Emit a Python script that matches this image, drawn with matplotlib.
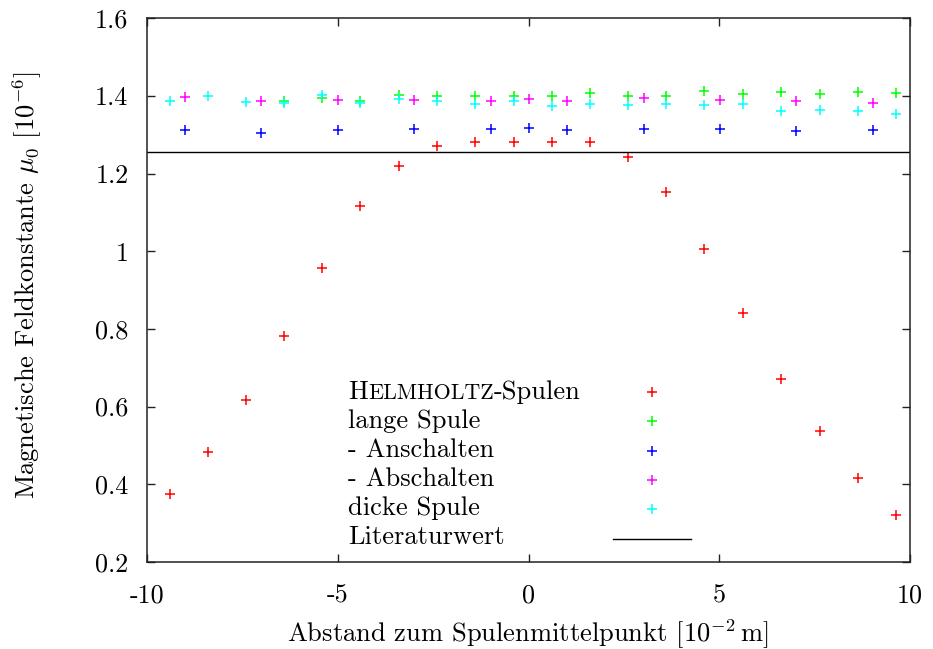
import matplotlib
matplotlib.use("Agg")
import matplotlib.pyplot as plt
from matplotlib.ticker import FixedLocator, FixedFormatter

plt.rcParams['font.family'] = ['cmr10', 'DejaVu Serif']
plt.rcParams['mathtext.fontset'] = 'cm'
plt.rcParams['axes.unicode_minus'] = False

# ---- data ----
helm_x = [-9.40, -8.41, -7.41, -6.41, -5.41, -4.41, -3.40, -2.40, -1.40, -0.39,
          0.60, 1.60, 2.61, 3.61, 4.61, 5.62, 6.62, 7.63, 8.63, 9.63]
helm_y = [0.374, 0.482, 0.616, 0.781, 0.958, 1.117, 1.219, 1.272, 1.281, 1.281,
          1.281, 1.281, 1.243, 1.153, 1.005, 0.840, 0.672, 0.536, 0.417, 0.321]

lang_x = [-6.41, -5.41, -4.41, -3.40, -2.40, -1.40, -0.39,
          0.60, 1.61, 2.61, 3.61, 4.61, 5.62, 6.62, 7.63, 8.63, 9.63]
lang_y = [1.387, 1.395, 1.387, 1.402, 1.400, 1.399, 1.399,
          1.399, 1.408, 1.399, 1.400, 1.414, 1.406, 1.410, 1.405, 1.410, 1.407]

an_x = [-9.01, -7.01, -5.00, -3.00, -1.00, 0.00, 1.01, 3.02, 5.01, 7.02, 9.02]
an_y = [1.311, 1.305, 1.311, 1.316, 1.314, 1.318, 1.313, 1.316, 1.316, 1.309, 1.311]

ab_x = [-9.01, -7.01, -5.00, -3.00, -1.00, 0.00, 1.01, 3.02, 5.01, 7.02, 9.02]
ab_y = [1.398, 1.387, 1.389, 1.389, 1.387, 1.391, 1.387, 1.395, 1.389, 1.388, 1.381]

dick_x = [-9.41, -8.41, -7.41, -6.41, -5.41, -4.41, -3.40, -2.40, -1.40, -0.39,
          0.60, 1.61, 2.61, 3.61, 4.61, 5.62, 6.62, 7.63, 8.63, 9.63]
dick_y = [1.387, 1.399, 1.385, 1.381, 1.402, 1.383, 1.391, 1.387, 1.378, 1.387,
          1.374, 1.380, 1.376, 1.380, 1.377, 1.379, 1.362, 1.365, 1.362, 1.354]

literatur = 1.2566

x_ticks = [-10, -5, 0, 5, 10]
x_tick_labels = ['-10', '-5', '0', '5', '10']
y_ticks = [0.2, 0.4, 0.6, 0.8, 1.0, 1.2, 1.4, 1.6]
y_tick_labels = ['0.2', '0.4', '0.6', '0.8', '1', '1.2', '1.4', '1.6']

series = [
    ('helm', helm_x, helm_y, '#ff0000'),
    ('lang', lang_x, lang_y, '#00ff00'),
    ('an', an_x, an_y, '#0000ff'),
    ('ab', ab_x, ab_y, '#ff00ff'),
    ('dick', dick_x, dick_y, '#00ffff'),
]

W, H = 933, 649
fig = plt.figure(figsize=(W / 100, H / 100), dpi=100)
L, R, T, B = 147.3, 910.0, 18.3, 561.8
ax = fig.add_axes([L / W, 1 - B / H, (R - L) / W, (B - T) / H])

FS = 19.1
TFS = 18.8
MS = 6.8
MEW = 1.1

for name, xs, ys, c in series:
    ax.plot(xs, ys, linestyle='none', marker='+', color=c, markersize=MS, mew=MEW)
ax.axhline(literatur, color='black', lw=1.0)

ax.set_xlim(-10, 10)
ax.set_ylim(0.2, 1.6)
ax.xaxis.set_major_locator(FixedLocator(x_ticks))
ax.xaxis.set_major_formatter(FixedFormatter(x_tick_labels))
ax.yaxis.set_major_locator(FixedLocator(y_ticks))
ax.yaxis.set_major_formatter(FixedFormatter(y_tick_labels))
ax.tick_params(direction='in', length=6, width=1.0, top=True, right=True,
               labelsize=TFS, color='#222222')
ax.tick_params(axis='y', pad=13.5)
ax.tick_params(axis='x', pad=16)
for s in ax.spines.values():
    s.set_linewidth(1.1)
    s.set_color('#222222')

fig.text(528 / W, 1 - 634 / H, 'Abstand zum Spulenmittelpunkt [10$^{-2}\\,$m]',
         ha='center', va='center', fontsize=FS)
fig.text(27 / W, 1 - 285 / H, 'Magnetische Feldkonstante $\\mu_0$ [10$^{-6}$]',
         ha='center', va='center', rotation=90, fontsize=FS)

# ---- manual legend ----
def fx(px):
    return px / W

def fy(py):
    return 1 - py / H

tx = 348
baselines = [399.3, 428.3, 457.3, 486.0, 515.0, 544.0]
centers = [392.3, 421.3, 450.5, 479.7, 509.0, 538.5]

t1 = fig.text(fx(tx), fy(baselines[0]), 'H', fontsize=FS, va='baseline', ha='left')
sc = ax.annotate('ELMHOLTZ', xy=(1, fy(baselines[0])),
                 xycoords=(t1, fig.transFigure), fontsize=FS * 0.83,
                 va='baseline', ha='left', annotation_clip=False)
ax.annotate('-Spulen', xy=(1, fy(baselines[0])),
            xycoords=(sc, fig.transFigure), fontsize=FS,
            va='baseline', ha='left', annotation_clip=False)

other_labels = ['lange Spule', '- Anschalten', '- Abschalten', 'dicke Spule', 'Literaturwert']
for lbl, by in zip(other_labels, baselines[1:]):
    fig.text(fx(tx), fy(by), lbl, fontsize=FS, va='baseline', ha='left')

mx = 651.7
for (name, xs, ys, c), cy in zip(series, centers[:5]):
    fig.lines.append(plt.Line2D([fx(mx)], [fy(cy)], transform=fig.transFigure,
                                linestyle='none', marker='+', color=c,
                                markersize=MS, mew=MEW, figure=fig))
fig.lines.append(plt.Line2D([fx(612.7), fx(691.0)], [fy(centers[5]), fy(centers[5])],
                            transform=fig.transFigure, color='black', lw=1.0, figure=fig))

fig.savefig('out.png', dpi=100)
